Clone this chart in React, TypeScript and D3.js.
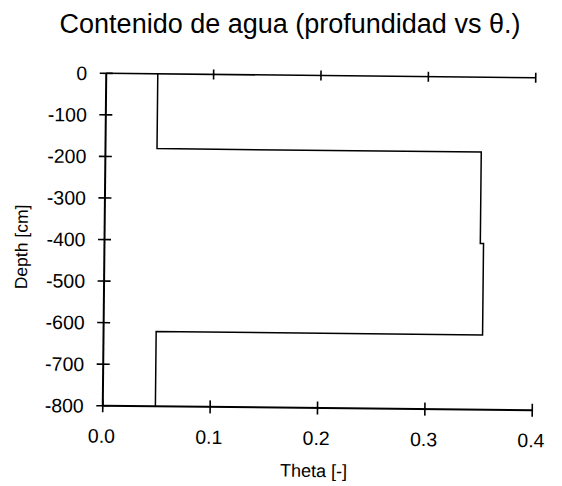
import React from "react";
import * as d3 from "d3";

// Water-content profile: theta [-] against depth [cm]
const thetaValues = [0.048, 0.048, 0.35, 0.35, 0.353, 0.353, 0.049, 0.049];
const depthValues = [0, -180, -180, -400, -400, -620, -620, -800];

const xTicks = [0.0, 0.1, 0.2, 0.3, 0.4];
const yTicks = [0, -100, -200, -300, -400, -500, -600, -700, -800];

const titleText = "Contenido de agua (profundidad vs θ.)";
const xLabel = "Theta [-]";
const yLabel = "Depth [cm]";

const W = 562;
const H = 486;
const FONT = "'Liberation Sans', Arial, sans-serif";

export default function App() {
  const x = d3.scaleLinear().domain([0, 0.4]).range([104.5, 534]);
  const y = d3.scaleLinear().domain([0, -800]).range([75.5, 408]);

  const points: [number, number][] = thetaValues.map((t, i) => [t, depthValues[i]]);
  const line = d3
    .line<[number, number]>()
    .x((d) => x(d[0]))
    .y((d) => y(d[1]));

  const x0 = x(0);
  const x1 = x(0.4);
  const yTop = y(0);
  const yBot = y(-800);
  const tickHalf = 6.5;

  return (
    <svg
      width={W}
      height={H}
      style={{ position: "absolute", left: 0, top: 0, background: "#fff" }}
      fontFamily={FONT}
    >
      <rect width={W} height={H} fill="#fff" />
      <text x={290} y={33} fontSize={27} textAnchor="middle" fill="#000">
        {titleText}
      </text>

      <g transform="rotate(0.6 318 242)">
        {/* axis lines: left, bottom and top */}
        <line x1={x0} y1={yTop} x2={x0} y2={yBot} stroke="#000" strokeWidth={2} />
        <line x1={x0} y1={yBot} x2={x1} y2={yBot} stroke="#000" strokeWidth={2} />
        <line x1={x0} y1={yTop} x2={x1} y2={yTop} stroke="#000" strokeWidth={1.6} />

        {/* y ticks crossing the left axis */}
        {yTicks.map((v) => (
          <g key={"y" + v}>
            <line
              x1={x0 - tickHalf}
              x2={x0 + tickHalf}
              y1={y(v)}
              y2={y(v)}
              stroke="#000"
              strokeWidth={1.6}
            />
            <text x={x0 - 19} y={y(v) + 7} fontSize={19.5} textAnchor="end" fill="#000">
              {String(v)}
            </text>
          </g>
        ))}

        {/* x ticks on bottom and top axes */}
        {xTicks.map((v) => (
          <g key={"x" + v}>
            <line
              x1={x(v)}
              x2={x(v)}
              y1={yBot - tickHalf}
              y2={yBot + tickHalf}
              stroke="#000"
              strokeWidth={1.6}
            />
            {v > 0 && (
              <line
                x1={x(v)}
                x2={x(v)}
                y1={yTop - 5}
                y2={yTop + 5}
                stroke="#000"
                strokeWidth={1.6}
              />
            )}
            <text x={x(v) - 1} y={yBot + 37} fontSize={19.5} textAnchor="middle" fill="#000">
              {v.toFixed(1)}
            </text>
          </g>
        ))}

        {/* profile */}
        <path d={line(points) ?? ""} fill="none" stroke="#000" strokeWidth={1.5} />

        <text x={316} y={yBot + 69} fontSize={18} textAnchor="middle" fill="#000">
          {xLabel}
        </text>
        <text
          transform={`translate(27.5 ${250}) rotate(-90)`}
          fontSize={17.5}
          textAnchor="middle"
          fill="#000"
        >
          {yLabel}
        </text>
      </g>
    </svg>
  );
}
